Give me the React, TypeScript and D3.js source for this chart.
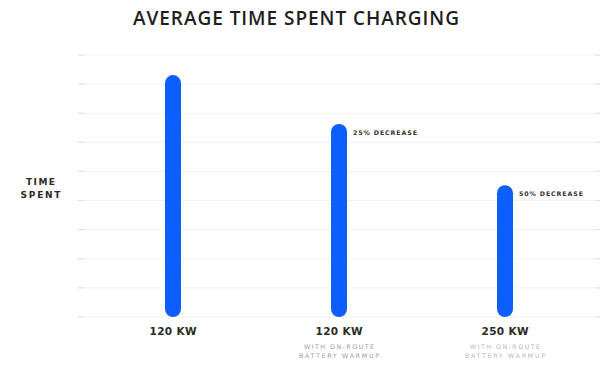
import React from "react";
import * as d3 from "d3";

const title = "AVERAGE TIME SPENT CHARGING";
const yAxisLabel = ["TIME", "SPENT"];
const categories = ["120 KW", "120 KW ON-ROUTE", "250 KW ON-ROUTE"];
const categoryLabels = ["120 KW", "120 KW", "250 KW"];
const subLabels: string[][] = [[], ["WITH ON-ROUTE", "BATTERY WARMUP"], ["WITH ON-ROUTE", "BATTERY WARMUP"]];
const values = [8.31, 6.63, 4.53];
const annotations = ["", "25% DECREASE", "50% DECREASE"];
const gridTicks = [0, 1, 2, 3, 4, 5, 6, 7, 8, 9];

const W = 600;
const H = 379;
const FONT = "'Open Sans', Lato, sans-serif";
const WIDE = "'DejaVu Sans', 'Open Sans', sans-serif";

export default function App() {
  const y = d3.scaleLinear().domain([0, 9]).range([317, 55]);
  const x = d3.scaleBand().domain(categories).range([90, 588]).padding(0);
  const barW = 16;
  const gx0 = 78;
  const gx1 = 600;

  return (
    <svg
      width={W}
      height={H}
      style={{ position: "absolute", left: 0, top: 0, background: "#fff" }}
    >
      <rect width={W} height={H} fill="#fff" />
      <text
        x={296}
        y={19.5}
        textAnchor="middle"
        dominantBaseline="middle"
        fontFamily={FONT}
        fontWeight={600}
        fontSize={19}
        fill="#1e1e1e"
        textLength={326}
        lengthAdjust="spacing"
      >
        {title}
      </text>

      {gridTicks.map((t) => (
        <g key={t}>
          <line x1={gx0} x2={gx1} y1={y(t)} y2={y(t)} stroke="#f2f2f2" strokeWidth={1} />
          <line x1={gx0} x2={gx0 + 6} y1={y(t)} y2={y(t)} stroke="#e0e0e0" strokeWidth={1} />
          <line x1={595} x2={gx1} y1={y(t)} y2={y(t)} stroke="#e0e0e0" strokeWidth={1} />
        </g>
      ))}

      {yAxisLabel.map((s, i) => (
        <text
          key={s}
          x={40.5}
          y={182.5 + i * 13}
          textAnchor="middle"
          dominantBaseline="middle"
          fontFamily={WIDE}
          fontWeight={700}
          fontSize={9}
          fill="#2a2a2a"
          textLength={i === 0 ? 29 : 40}
          lengthAdjust="spacing"
        >
          {s}
        </text>
      ))}

      {categories.map((c, i) => {
        const cx = (x(c) as number) + x.bandwidth() / 2;
        const top = y(values[i]);
        const bottom = y(0);
        return (
          <g key={c}>
            <rect
              x={cx - barW / 2}
              y={top}
              width={barW}
              height={bottom - top}
              rx={barW / 2}
              fill="#0d5eff"
            />
            {annotations[i] && (
              <text
                x={cx + 14}
                y={top + 9}
                dominantBaseline="middle"
                fontFamily={WIDE}
                fontWeight={700}
                fontSize={6.3}
                fill="#333"
                textLength={64}
                lengthAdjust="spacing"
              >
                {annotations[i]}
              </text>
            )}
            <text
              x={cx}
              y={332}
              textAnchor="middle"
              dominantBaseline="middle"
              fontFamily={WIDE}
              fontWeight={700}
              fontSize={10.5}
              fill="#2a2a2a"
              textLength={47}
              lengthAdjust="spacing"
            >
              {categoryLabels[i]}
            </text>
            {subLabels[i].map((s, j) => (
              <text
                key={j}
                x={cx}
                y={347.7 + j * 8.6}
                textAnchor="middle"
                dominantBaseline="middle"
                fontFamily={WIDE}
                fontWeight={400}
                fontSize={6.3}
                fill={i === 2 ? "#b8b8b8" : "#9a9a9a"}
                textLength={j === 0 ? 70 : 80}
                lengthAdjust="spacing"
              >
                {s}
              </text>
            ))}
          </g>
        );
      })}
    </svg>
  );
}
